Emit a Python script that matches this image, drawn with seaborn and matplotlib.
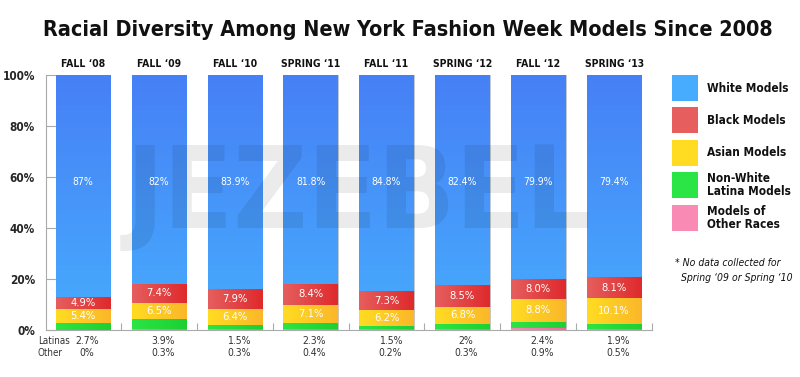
import numpy as np
import pandas as pd
import matplotlib
matplotlib.use("Agg")
import matplotlib.pyplot as plt
import seaborn as sns

# ---------------------------------------------------
# Data
# ---------------------------------------------------
seasons = ["FALL \u201808", "FALL \u201809", "FALL \u201810", "SPRING \u201811",
           "FALL \u201811", "SPRING \u201812", "FALL \u201812", "SPRING \u201813"]
white = [87, 82, 83.9, 81.8, 84.8, 82.4, 79.9, 79.4]
black = [4.9, 7.4, 7.9, 8.4, 7.3, 8.5, 8.0, 8.1]
asian = [5.4, 6.5, 6.4, 7.1, 6.2, 6.8, 8.8, 10.1]
latina = [2.7, 3.9, 1.5, 2.3, 1.5, 2.0, 2.4, 1.9]
other = [0, 0.3, 0.3, 0.4, 0.2, 0.3, 0.9, 0.5]

white_lbl = ["87%", "82%", "83.9%", "81.8%", "84.8%", "82.4%", "79.9%", "79.4%"]
black_lbl = ["4.9%", "7.4%", "7.9%", "8.4%", "7.3%", "8.5%", "8.0%", "8.1%"]
asian_lbl = ["5.4%", "6.5%", "6.4%", "7.1%", "6.2%", "6.8%", "8.8%", "10.1%"]
latina_lbl = ["2.7%", "3.9%", "1.5%", "2.3%", "1.5%", "2%", "2.4%", "1.9%"]
other_lbl = ["0%", "0.3%", "0.3%", "0.4%", "0.2%", "0.3%", "0.9%", "0.5%"]

df = pd.DataFrame({"season": seasons, "white": white, "black": black,
                   "asian": asian, "latina": latina, "other": other})

# cumulative tops, bottom-up: other, latina, asian, black, white
df["c_other"] = df["other"]
df["c_latina"] = df["c_other"] + df["latina"]
df["c_asian"] = df["c_latina"] + df["asian"]
df["c_black"] = df["c_asian"] + df["black"]
df["c_white"] = (df["c_black"] + df["white"]).clip(upper=100)

layers = [
    ("c_white", "White Models", ("#4680f6", "#47acfd"), "v"),
    ("c_black", "Black Models", ("#e65e5e", "#df2a2c"), "h"),
    ("c_asian", "Asian Models", ("#ffdc22", "#fbb72a"), "h"),
    ("c_latina", "Non-White\nLatina Models", ("#2be445", "#1dd033"), "h"),
    ("c_other", "Models of\nOther Races", ("#f98ab4", "#f6689f"), "h"),
]

# ---------------------------------------------------
# Figure
# ---------------------------------------------------
sns.set_style("white")
plt.rcParams["font.family"] = ["DejaVu Sans"]
plt.rcParams["font.stretch"] = "condensed"

fig = plt.figure(figsize=(8, 3.77), dpi=100)
ax = fig.add_axes([0.0575, 0.1247, 0.7575, 0.6764])


def gradient_fill(patches, c1, c2, direction, z):
    cmap = matplotlib.colors.LinearSegmentedColormap.from_list("g", [c1, c2])
    for p in patches:
        x0, y0 = p.get_x(), p.get_y()
        w, h = p.get_width(), p.get_height()
        if h <= 0:
            continue
        if direction == "v":
            grad = np.linspace(0, 1, 64).reshape(-1, 1)
        else:
            grad = np.linspace(0, 1, 64).reshape(1, -1)
        im = ax.imshow(grad, cmap=cmap, aspect="auto", origin="upper",
                       extent=(x0, x0 + w, y0, y0 + h), zorder=z,
                       interpolation="bicubic")
        im.set_clip_path(p)


for i, (col, name, (c1, c2), d) in enumerate(layers):
    n_before = len(ax.patches)
    sns.barplot(data=df, x="season", y=col, color=c2, width=0.72,
                saturation=1, ax=ax, zorder=2 + i)
    new = ax.patches[n_before:]
    for p in new:
        p.set_edgecolor("#c8c8c8")
        p.set_linewidth(0.6)
        p.set_zorder(2 + i)
    gradient_fill(new, c1, c2, d, 2 + i + 0.5)

ax.set_xlim(-0.49, 7.48)
ax.set_ylim(0, 100)
ax.set_xlabel("")
ax.set_ylabel("")

# value labels
xs = np.arange(len(seasons))
for i in xs:
    ax.text(i, 58, white_lbl[i], color="white", ha="center", va="center",
            fontsize=7.5, zorder=20)
    ax.text(i, df["c_asian"][i] + black[i] / 2, black_lbl[i], color="white",
            ha="center", va="center", fontsize=8, zorder=20)
    ax.text(i, df["c_latina"][i] + asian[i] / 2, asian_lbl[i], color="white",
            ha="center", va="center", fontsize=8, zorder=20)
    ax.text(i, 102.5, seasons[i], ha="center", va="bottom", fontsize=7.5,
            fontweight="bold", color="#111111")
    ax.text(i + 0.05, -4.5, latina_lbl[i], ha="center", va="center", fontsize=7.5,
            color="#333333", clip_on=False)
    ax.text(i + 0.05, -9.2, other_lbl[i], ha="center", va="center", fontsize=7.5,
            color="#333333", clip_on=False)

ax.text(-0.6, -4.5, "Latinas", ha="left", va="center", fontsize=7,
        color="#333333", clip_on=False)
ax.text(-0.6, -9.2, "Other", ha="left", va="center", fontsize=7,
        color="#333333", clip_on=False)

# watermark
ax.text(3.63, 52.5, "JEZEBEL", ha="center", va="center", fontsize=82,
        fontweight="bold", color="black", alpha=0.08, zorder=15)

# axes styling
ax.set_yticks([0, 20, 40, 60, 80, 100])
ax.set_yticklabels(["0%", "20%", "40%", "60%", "80%", "100%"],
                   fontweight="bold", fontsize=8.5)
ax.set_xticks(np.arange(0.5, 8, 1))
ax.set_xticklabels([])
ax.tick_params(axis="y", direction="in", length=7.5, color="#aaaaaa",
               width=0.8, pad=8, left=True)
ax.tick_params(axis="x", direction="in", length=5, color="#aaaaaa",
               width=0.8, bottom=True)
for s in ["top", "right"]:
    ax.spines[s].set_visible(False)
for s in ["left", "bottom"]:
    ax.spines[s].set_color("#aaaaaa")
    ax.spines[s].set_linewidth(0.8)

# title
fig.text(0.51, 0.92, "Racial Diversity Among New York Fashion Week Models Since 2008",
         ha="center", va="center", fontsize=15.5, fontweight="bold", color="#111111")

# legend
leg_y = [88, 120, 153, 185, 218]
for (col, name, (c1, c2), d), yy in zip(layers, leg_y):
    yf = 1 - yy / 377
    fig.patches.append(matplotlib.patches.Rectangle(
        (672 / 800, yf - 13 / 377), 26 / 800, 26 / 377, transform=fig.transFigure,
        facecolor=c2 if d == "v" else c1, edgecolor="none"))
    fig.text(707 / 800, yf, name, ha="left", va="center", fontsize=8.5,
             fontweight="bold", color="#111111", linespacing=1.0)

fig.text(675 / 800, 1 - 263 / 377, "* No data collected for", ha="left",
         va="center", fontsize=7.5, style="italic", color="#111111")
fig.text(681 / 800, 1 - 278 / 377, "Spring \u201809 or Spring \u201810", ha="left",
         va="center", fontsize=7.5, style="italic", color="#111111")

fig.savefig("out.png", dpi=100)
